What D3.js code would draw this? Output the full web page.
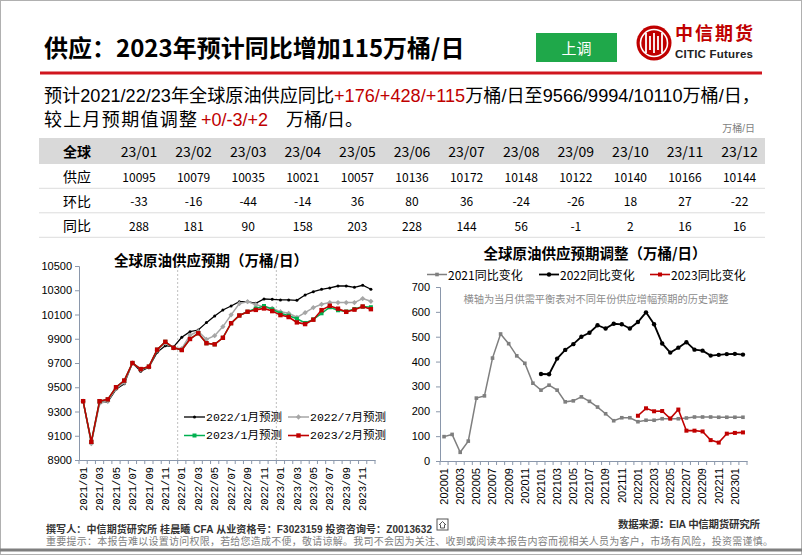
<!DOCTYPE html>
<html><head><meta charset="utf-8">
<script src="https://cdn.jsdelivr.net/npm/d3@7/dist/d3.min.js"></script>
<style>body{margin:0;background:#fff}svg{display:block}</style>
</head><body>
<svg id="c" width="802" height="555"></svg>
<script>
// ---------------- DATA ----------------
const monthsL = ["2021/01","2021/02","2021/03","2021/04","2021/05","2021/06","2021/07","2021/08","2021/09","2021/10","2021/11","2021/12",
"2022/01","2022/02","2022/03","2022/04","2022/05","2022/06","2022/07","2022/08","2022/09","2022/10","2022/11","2022/12",
"2023/01","2023/02","2023/03","2023/04","2023/05","2023/06","2023/07","2023/08","2023/09","2023/10","2023/11","2023/12"];
const fcstJan22 = [9385,9045,9375,9380,9483,9528,9700,9632,9665,9788,9843,9833,
 9912,9958,9972,10033,10088,10137,10170,10206,10206,10192,10228,10225,
 10220,10220,10217,10261,10288,10308,10319,10335,10335,10324,10341,10308];
const fcstJul22 = [9385,9035,9365,9385,9490,9540,9700,9645,9665,9805,9865,9825,
 9818,9930,9960,9895,9925,10000,10097,10190,10206,10181,10165,10151,
 10123,10110,10077,10115,10157,10184,10198,10198,10198,10198,10231,10209];
const fcstJan23 = [9385,9050,9385,9400,9500,9555,9700,9650,9670,9810,9875,9825,
 9807,9898,9945,9863,9854,9908,10028,10092,10123,10150,10170,10143,
 10110,10090,10065,10030,10060,10110,10160,10135,10125,10145,10165,10160];
const fcstFeb23 = [9385,9050,9385,9400,9500,9555,9700,9650,9670,9810,9875,9825,
 9807,9898,9945,9863,9854,9908,10028,10092,10123,10138,10150,10128,
 10095,10079,10035,10021,10057,10136,10172,10148,10122,10140,10166,10144];
const legendL = ["2022/1月预测","2022/7月预测","2023/1月预测","2023/2月预测"];
const yTicksL = [8900,9100,9300,9500,9700,9900,10100,10300,10500];

const monthsR = ["202001","202002","202003","202004","202005","202006","202007","202008","202009","202010","202011","202012",
"202101","202102","202103","202104","202105","202106","202107","202108","202109","202110","202111","202112",
"202201","202202","202203","202204","202205","202206","202207","202208","202209","202210","202211","202212",
"202301","202302"];
const adj2021 = [98,107,35,80,253,262,414,511,472,423,393,313,285,305,285,238,242,258,240,217,190,162,174,174,
 158,164,164,170,170,170,173,177,177,177,176,176,176,176];
const adj2022 = [null,null,null,null,null,null,null,null,null,null,null,null,
 350,349,412,447,470,500,516,546,533,552,550,533,559,598,550,473,436,456,478,448,444,424,427,430,431,428];
const adj2023 = [null,null,null,null,null,null,null,null,null,null,null,null,
 null,null,null,null,null,null,null,null,null,null,null,null,
 182,212,200,201,171,207,122,122,119,84,74,110,113,115];
const legendR = ["2021同比变化","2022同比变化","2023同比变化"];
const yTicksR = [0,100,200,300,400,500,600,700];

const tblCols = ["23/01","23/02","23/03","23/04","23/05","23/06","23/07","23/08","23/09","23/10","23/11","23/12"];
const tblSupply = [10095,10079,10035,10021,10057,10136,10172,10148,10122,10140,10166,10144];
const tblMoM = [-33,-16,-44,-14,36,80,36,-24,-26,18,27,-22];
const tblYoY = [288,181,90,158,203,228,144,56,-1,2,16,16];

// ---------------- STYLE ----------------
const CJK = "'Noto Sans CJK SC','Noto Sans',sans-serif";
const SANS = "'Liberation Sans',Arial,'Noto Sans CJK SC',sans-serif";
const MONO = "'Liberation Mono','DejaVu Sans Mono','Noto Sans CJK SC',monospace";
const RED = "#c00000", AXIS = "#8a97ab";

const svg = d3.select("#c");
svg.append("rect").attr("x",0.5).attr("y",0.5).attr("width",801).attr("height",554).attr("fill","#fff").attr("stroke","#b0b0b0");

// ---------------- HEADER ----------------
svg.append("text").attr("x",44).attr("y",57).attr("font-family",CJK).attr("font-weight","bold")
  .attr("font-size",24).attr("fill","#000").text("供应：2023年预计同比增加115万桶/日");
svg.append("rect").attr("x",536).attr("y",33).attr("width",81).attr("height",29).attr("fill","#1fa84a");
svg.append("text").attr("x",576.5).attr("y",47.5).attr("text-anchor","middle").attr("dominant-baseline","central")
  .attr("font-family",CJK).attr("font-size",15).attr("fill","#fff").text("上调");
// logo
const lg = svg.append("g").attr("transform","translate(654,43)");
lg.append("circle").attr("r",17.5).attr("fill",RED);
lg.append("circle").attr("r",13.5).attr("fill","none").attr("stroke","#fff").attr("stroke-width",1.6);
[-8,-4,0,4,8].forEach((dx,i)=>{
  lg.append("line").attr("x1",dx).attr("x2",dx).attr("y1",-10+(i%2)*3).attr("y2",10-(i%2)*3)
    .attr("stroke","#fff").attr("stroke-width",1.8);
});
svg.append("text").attr("x",675).attr("y",34).attr("dominant-baseline","central").attr("font-family",SANS)
  .attr("font-weight","bold").attr("font-size",18).attr("fill",RED).attr("textLength",78).text("中信期货");
svg.append("text").attr("x",675).attr("y",53.5).attr("dominant-baseline","central").attr("font-family",SANS)
  .attr("font-weight","bold").attr("font-size",11.5).attr("fill","#222").attr("textLength",78).text("CITIC Futures");
svg.append("line").attr("x1",40).attr("x2",762).attr("y1",73).attr("y2",73).attr("stroke","#d0161e").attr("stroke-width",3);

const l1 = svg.append("text").attr("x",44).attr("y",96).attr("dominant-baseline","central")
  .attr("font-family",SANS).attr("font-size",18).attr("fill","#000").attr("textLength",716).attr("lengthAdjust","spacingAndGlyphs");
l1.append("tspan").text("预计2021/22/23年全球原油供应同比");
l1.append("tspan").attr("fill",RED).text("+176/+428/+115");
l1.append("tspan").text("万桶/日至9566/9994/10110万桶/日，");
const l2 = svg.append("text").attr("y",119.5).attr("dominant-baseline","central")
  .attr("font-family",SANS).attr("font-size",18).attr("fill","#000");
l2.append("tspan").attr("x",44).attr("textLength",153).text("较上月预期值调整");
l2.append("tspan").attr("x",201).attr("fill",RED).text("+0/-3/+2");
l2.append("tspan").attr("x",286).text("万桶/日。");
svg.append("text").attr("x",755).attr("y",128).attr("text-anchor","end").attr("dominant-baseline","central")
  .attr("font-family",SANS).attr("font-size",10).attr("fill","#7f7f7f").text("万桶/日");

// ---------------- TABLE ----------------
const colX = c => c==="全球" ? 77 : (139 + tblCols.indexOf(c)*54.6);
svg.append("rect").attr("x",39).attr("y",138).attr("width",726).attr("height",26).attr("fill","#d9d9d9");
svg.append("text").attr("x",colX("全球")).attr("y",151).attr("text-anchor","middle").attr("dominant-baseline","central")
  .attr("font-family",CJK).attr("font-weight","bold").attr("font-size",14).text("全球");
tblCols.forEach(c=>{
  svg.append("text").attr("x",colX(c)).attr("y",151).attr("text-anchor","middle").attr("dominant-baseline","central")
    .attr("font-family",CJK).attr("font-size",14).text(c);
});
const rows = [["供应",tblSupply],["环比",tblMoM],["同比",tblYoY]];
rows.forEach((r,ri)=>{
  const cy = 176 + ri*24.5;
  svg.append("line").attr("x1",39).attr("x2",765).attr("y1",cy+12.3).attr("y2",cy+12.3).attr("stroke","#dcdcdc").attr("stroke-width",1);
  svg.append("text").attr("x",colX("全球")).attr("y",cy).attr("text-anchor","middle").attr("dominant-baseline","central")
    .attr("font-family",CJK).attr("font-size",14).text(r[0]);
  r[1].forEach((v,i)=>{
    svg.append("text").attr("x",colX(tblCols[i])).attr("y",cy).attr("text-anchor","middle").attr("dominant-baseline","central")
      .attr("font-family",CJK).attr("font-size",12).text(v<0?"-"+Math.abs(v):v);
  });
});

// ---------------- LEFT CHART ----------------
const xL = d3.scaleBand().domain(monthsL).range([79,375]);
const yL = d3.scaleLinear().domain([8900,10500]).range([460,266]);
const cxL = m => xL(m)+xL.bandwidth()/2;
svg.append("text").attr("x",211).attr("y",259).attr("text-anchor","middle").attr("dominant-baseline","central")
  .attr("font-family",CJK).attr("font-weight","bold").attr("font-size",14.5).text("全球原油供应预期（万桶/日）");
["2022/01","2023/01"].forEach(m=>{
  svg.append("line").attr("x1",xL(m)).attr("x2",xL(m)).attr("y1",266).attr("y2",460)
   .attr("stroke","#bfbfbf").attr("stroke-dasharray","2,2");
});
const gyL = svg.append("g").attr("transform","translate(79,0)")
  .call(d3.axisLeft(yL).tickValues(yTicksL).tickSize(4).tickPadding(3).tickFormat(d3.format("d")));
gyL.selectAll("text").attr("font-family",SANS).attr("font-size",11).attr("fill","#000");
gyL.selectAll("line,path").attr("stroke",AXIS);
const gxL = svg.append("g").attr("transform","translate(0,460)")
  .call(d3.axisBottom(xL).tickValues(monthsL.filter((d,i)=>i%2===0)).tickSize(0));
gxL.select("path").attr("stroke",AXIS);
gxL.selectAll("text").attr("transform","rotate(-90)").attr("x",-7).attr("y",0).attr("dy","0.35em")
  .style("text-anchor","end").attr("font-family",MONO).attr("font-size",10.5).attr("fill","#000");
monthsL.concat([null]).forEach(m=>{
  const xx = m ? xL(m) : 375;
  svg.append("line").attr("x1",xx).attr("x2",xx).attr("y1",460).attr("y2",464).attr("stroke",AXIS);
});
const lineL = d3.line().x((d,i)=>cxL(monthsL[i])).y(d=>yL(d));
const seriesL = [
  {v:fcstJan22,c:"#000000",m:"circle",s:1.5,w:1.3},
  {v:fcstJul22,c:"#a6a6a6",m:"diamond",s:2.2,w:1.5},
  {v:fcstJan23,c:"#00b050",m:"square",s:2,w:1.5},
  {v:fcstFeb23,c:"#c00000",m:"square",s:2.2,w:1.6}
];
function marker(g,type,x,y,s,c){
  if(type==="circle") g.append("circle").attr("cx",x).attr("cy",y).attr("r",s).attr("fill",c);
  else if(type==="diamond") g.append("path").attr("d",`M${x},${y-s*1.2}L${x+s*1.2},${y}L${x},${y+s*1.2}L${x-s*1.2},${y}Z`).attr("fill",c);
  else g.append("rect").attr("x",x-s).attr("y",y-s).attr("width",2*s).attr("height",2*s).attr("fill",c);
}
seriesL.forEach(s=>{
  const g = svg.append("g");
  g.append("path").attr("d",lineL(s.v)).attr("fill","none").attr("stroke",s.c).attr("stroke-width",s.w);
  s.v.forEach((d,i)=>marker(g,s.m,cxL(monthsL[i]),yL(d),s.s,s.c));
});
const legPosL = [[184,417],[288,417],[184,435.5],[288,435.5]];
seriesL.forEach((s,i)=>{
  const [lx,ly] = legPosL[i];
  svg.append("line").attr("x1",lx).attr("x2",lx+21).attr("y1",ly).attr("y2",ly).attr("stroke",s.c).attr("stroke-width",s.w);
  marker(svg,s.m,lx+10.5,ly,s.s,s.c);
  svg.append("text").attr("x",lx+22).attr("y",ly).attr("dominant-baseline","central")
    .attr("font-family",MONO).attr("font-size",11.5).attr("fill","#000").text(legendL[i]);
});

// ---------------- RIGHT CHART ----------------
const xR = d3.scaleBand().domain(monthsR).range([440,747]);
const yR = d3.scaleLinear().domain([0,700]).range([461,287]);
const cxR = m => xR(m)+xR.bandwidth()/2;
svg.append("text").attr("x",595).attr("y",252.5).attr("text-anchor","middle").attr("dominant-baseline","central")
  .attr("font-family",CJK).attr("font-weight","bold").attr("font-size",14.5).text("全球原油供应预期调整（万桶/日）");
svg.append("text").attr("x",596).attr("y",298).attr("text-anchor","middle").attr("dominant-baseline","central")
  .attr("font-family",CJK).attr("font-size",10.2).attr("fill","#8c8c8c").text("横轴为当月供需平衡表对不同年份供应增幅预期的历史调整");
const gyR = svg.append("g").attr("transform","translate(440,0)")
  .call(d3.axisLeft(yR).tickValues(yTicksR).tickSize(4).tickPadding(6));
gyR.selectAll("text").attr("font-family",SANS).attr("font-size",11).attr("fill","#000");
gyR.selectAll("line,path").attr("stroke",AXIS);
const gxR = svg.append("g").attr("transform","translate(0,461)")
  .call(d3.axisBottom(xR).tickValues(monthsR.filter((d,i)=>i%2===0)).tickSize(0));
gxR.select("path").attr("stroke",AXIS);
gxR.selectAll("text").attr("transform","rotate(-90)").attr("x",-7).attr("y",0).attr("dy","0.35em")
  .style("text-anchor","end").attr("font-family",SANS).attr("font-size",11).attr("fill","#000");
monthsR.concat([null]).forEach(m=>{
  const xx = m ? xR(m) : 747;
  svg.append("line").attr("x1",xx).attr("x2",xx).attr("y1",461).attr("y2",465).attr("stroke",AXIS);
});
const lineR = d3.line().defined(d=>d!=null).x((d,i)=>cxR(monthsR[i])).y(d=>yR(d));
const seriesR = [
  {v:adj2021,c:"#7f7f7f",m:"square",s:1.8,w:1.5},
  {v:adj2022,c:"#000000",m:"circle",s:2.2,w:1.8},
  {v:adj2023,c:"#c00000",m:"square",s:2,w:1.6}
];
seriesR.forEach(s=>{
  const g = svg.append("g");
  g.append("path").attr("d",lineR(s.v)).attr("fill","none").attr("stroke",s.c).attr("stroke-width",s.w);
  s.v.forEach((d,i)=>{ if(d!=null) marker(g,s.m,cxR(monthsR[i]),yR(d),s.s,s.c); });
});
const legPosR = [427,539,650];
seriesR.forEach((s,i)=>{
  const lx = legPosR[i], ly = 274.5;
  svg.append("line").attr("x1",lx).attr("x2",lx+20).attr("y1",ly).attr("y2",ly).attr("stroke",s.c).attr("stroke-width",s.w);
  marker(svg,s.m,lx+10,ly,s.s,s.c);
  svg.append("text").attr("x",lx+21).attr("y",ly).attr("dominant-baseline","central")
    .attr("font-family",CJK).attr("font-size",12).attr("fill","#000").text(legendR[i]);
});

// ---------------- FOOTER ----------------
svg.append("text").attr("x",46).attr("y",529).attr("dominant-baseline","central").attr("font-family",SANS)
  .attr("font-weight","bold").attr("font-size",10).attr("fill","#333").attr("textLength",386)
  .text("撰写人：中信期货研究所 桂晨曦 CFA 从业资格号：F3023159 投资咨询号：Z0013632");
const ic = svg.append("g").attr("transform","translate(437,519)");
ic.append("rect").attr("width",11).attr("height",11).attr("fill","none").attr("stroke","#555");
ic.append("path").attr("d","M2,6L5.5,2.5L9,6M3.5,5.5V9H7.5V5.5").attr("fill","none").attr("stroke","#555");
svg.append("text").attr("x",618).attr("y",524).attr("dominant-baseline","central").attr("font-family",SANS)
  .attr("font-weight","bold").attr("font-size",10.5).attr("fill","#333").attr("textLength",142)
  .text("数据来源：EIA 中信期货研究所");
svg.append("text").attr("x",46).attr("y",541).attr("dominant-baseline","central").attr("font-family",SANS)
  .attr("font-size",10).attr("fill","#808080").attr("textLength",727)
  .text("重要提示：本报告难以设置访问权限，若给您造成不便，敬请谅解。我司不会因为关注、收到或阅读本报告内容而视相关人员为客户，市场有风险，投资需谨慎。");
svg.append("line").attr("x1",0).attr("x2",802).attr("y1",550).attr("y2",550).attr("stroke","#7f7f7f").attr("stroke-width",3);
</script>
</body></html>
